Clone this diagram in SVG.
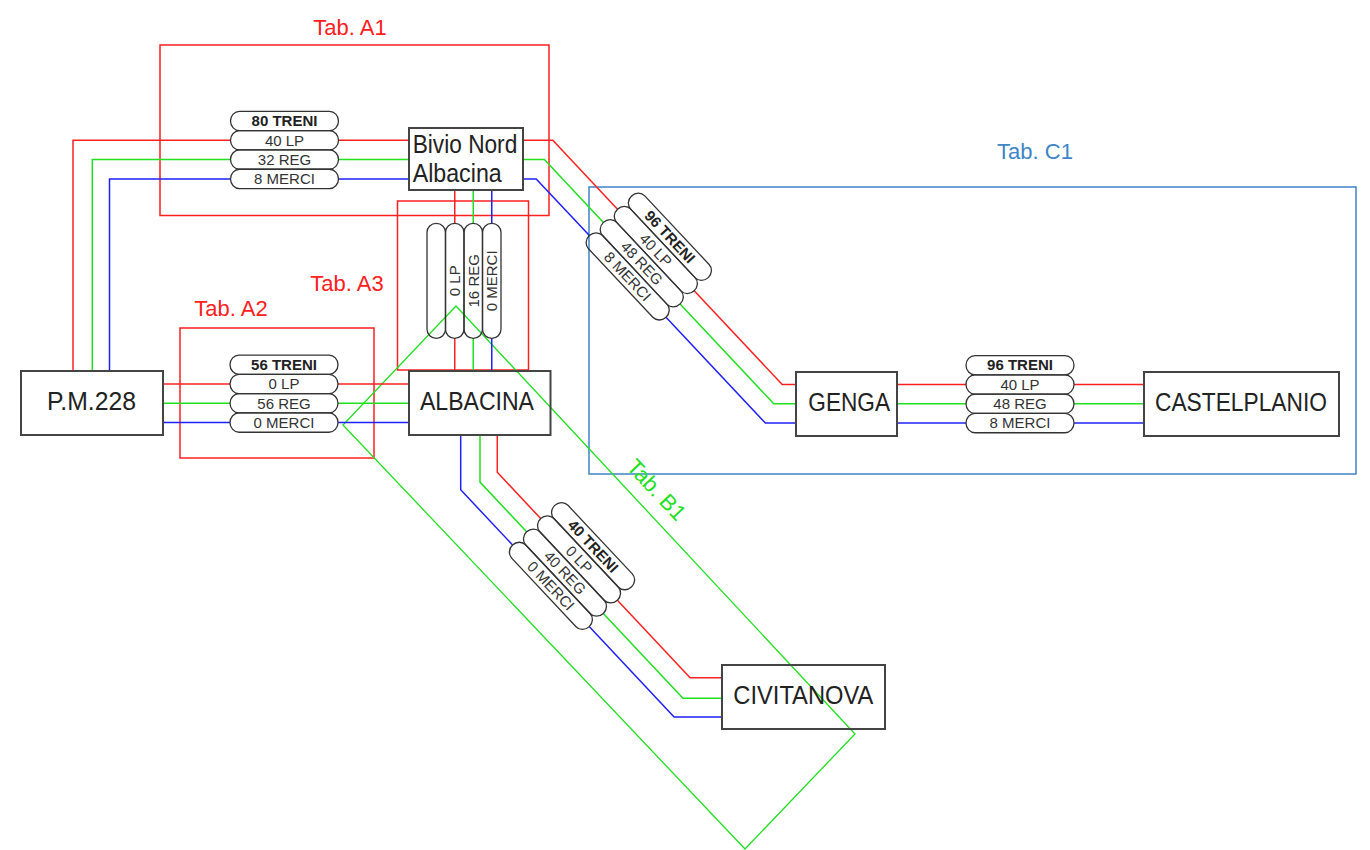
<svg xmlns="http://www.w3.org/2000/svg" width="1370" height="850" viewBox="0 0 1370 850">
<style>
.bg{fill:#ffffff}
.tabR{fill:none;stroke:#ff2020;stroke-width:1.5}
.tabC{fill:none;stroke:#3d85c6;stroke-width:1.5}
.tabG{fill:none;stroke:#20e020;stroke-width:1.3}
.ttlR{fill:#ff2020;font-family:"Liberation Sans",Arial,sans-serif;font-size:22px}
.ttlC{fill:#3d85c6;font-family:"Liberation Sans",Arial,sans-serif;font-size:22px}
.ttlG{fill:#20e020;font-family:"Liberation Sans",Arial,sans-serif;font-size:22px}
.r{fill:none;stroke:#ff2020;stroke-width:1.5}
.g{fill:none;stroke:#20e020;stroke-width:1.5}
.b{fill:none;stroke:#2020ff;stroke-width:1.5}
.box{fill:none;stroke:#444;stroke-width:2}
.nl{fill:#222;font-family:"Liberation Sans",Arial,sans-serif;font-size:25px}
.pill{fill:none;stroke:#333;stroke-width:1.3}
.pt{fill:#333;font-family:"Liberation Sans",Arial,sans-serif;font-size:15px;text-anchor:middle}
.ptb{fill:#222;font-family:"Liberation Sans",Arial,sans-serif;font-size:15px;font-weight:bold;text-anchor:middle}
</style>
<rect class="bg" x="0" y="0" width="1370" height="850"/>

<g id="tables">
  <rect class="tabR" x="160" y="45" width="389" height="170.5"/>
  <text class="ttlR" x="350" y="35" text-anchor="middle">Tab. A1</text>
  <rect class="tabR" x="397.5" y="201" width="131" height="169"/>
  <text class="ttlR" x="347" y="291" text-anchor="middle">Tab. A3</text>
  <rect class="tabR" x="180" y="328" width="194" height="130"/>
  <text class="ttlR" x="231" y="316" text-anchor="middle">Tab. A2</text>
  <rect class="tabC" x="589" y="187" width="767" height="287"/>
  <text class="ttlC" x="1035" y="159" text-anchor="middle">Tab. C1</text>
  <polygon class="tabG" points="456,306 855,734 745,849 343,425"/>
  <text class="ttlG" x="0" y="0" text-anchor="middle" transform="translate(651,495) rotate(46.8)">Tab. B1</text>
</g>

<g id="connectors">
  <polyline class="r" points="73,371 73,140.3 230.5,140.3"/>
  <polyline class="g" points="92.3,371 92.3,159.6 230.5,159.6"/>
  <polyline class="b" points="109.5,371 109.5,178.9 230.5,178.9"/>
  <line class="r" x1="338.5" y1="140.3" x2="409" y2="140.3"/>
  <line class="g" x1="338.5" y1="159.6" x2="409" y2="159.6"/>
  <line class="b" x1="338.5" y1="178.9" x2="409" y2="178.9"/>
  <polyline class="r" points="523,140.3 552.8,140.3 617.5,209.2"/>
  <polyline class="g" points="523,159.6 544.4,159.6 603.4,222.4"/>
  <polyline class="b" points="523,178.9 536.2,178.9 589.4,235.6"/>
  <polyline class="r" points="694.2,290.8 782.2,384.5 796,384.5"/>
  <polyline class="g" points="680.1,304 773.8,403.8 796,403.8"/>
  <polyline class="b" points="666,317.2 765.4,423.1 796,423.1"/>
  <line class="r" x1="897" y1="384.5" x2="966" y2="384.5"/>
  <line class="g" x1="897" y1="403.8" x2="966" y2="403.8"/>
  <line class="b" x1="897" y1="423.1" x2="966" y2="423.1"/>
  <line class="r" x1="1074" y1="384.5" x2="1144" y2="384.5"/>
  <line class="g" x1="1074" y1="403.8" x2="1144" y2="403.8"/>
  <line class="b" x1="1074" y1="423.1" x2="1144" y2="423.1"/>
  <line class="r" x1="163" y1="384" x2="230" y2="384"/>
  <line class="g" x1="163" y1="403.3" x2="230" y2="403.3"/>
  <line class="b" x1="163" y1="422.6" x2="230" y2="422.6"/>
  <line class="r" x1="338" y1="384" x2="409" y2="384"/>
  <line class="g" x1="338" y1="403.3" x2="409" y2="403.3"/>
  <line class="b" x1="338" y1="422.6" x2="409" y2="422.6"/>
  <line class="r" x1="454.75" y1="190" x2="454.75" y2="223"/>
  <line class="g" x1="473.25" y1="190" x2="473.25" y2="223"/>
  <line class="b" x1="491.75" y1="190" x2="491.75" y2="223"/>
  <line class="r" x1="454.75" y1="338" x2="454.75" y2="371"/>
  <line class="g" x1="473.25" y1="338" x2="473.25" y2="371"/>
  <line class="b" x1="491.75" y1="338" x2="491.75" y2="371"/>
  <polyline class="r" points="497.3,435 497.3,472.3 540.7,518.6"/>
  <polyline class="g" points="480,435 480,482.1 526.6,531.8"/>
  <polyline class="b" points="460.7,435 460.7,489.8 512.6,545"/>
  <polyline class="r" points="617.4,600.2 690.1,677.7 722,677.7"/>
  <polyline class="g" points="603.3,613.4 683,698.3 722,698.3"/>
  <polyline class="b" points="589.2,626.6 674.1,717 722,717"/>
</g>

<g id="flows-A1" transform="translate(284.5,149.95)">
  <rect class="pill" x="-54" y="-38.6" width="108" height="19.3" rx="9" ry="9.65"/>
  <rect class="pill" x="-54" y="-19.3" width="108" height="19.3" rx="9" ry="9.65"/>
  <rect class="pill" x="-54" y="0" width="108" height="19.3" rx="9" ry="9.65"/>
  <rect class="pill" x="-54" y="19.3" width="108" height="19.3" rx="9" ry="9.65"/>
  <text class="ptb" x="0" y="-23.7">80 TRENI</text>
  <text class="pt" x="0" y="-4.4">40 LP</text>
  <text class="pt" x="0" y="14.9">32 REG</text>
  <text class="pt" x="0" y="34.2">8 MERCI</text>
</g>

<g id="flows-A2" transform="translate(284,393.65)">
  <rect class="pill" x="-54" y="-38.6" width="108" height="19.3" rx="9" ry="9.65"/>
  <rect class="pill" x="-54" y="-19.3" width="108" height="19.3" rx="9" ry="9.65"/>
  <rect class="pill" x="-54" y="0" width="108" height="19.3" rx="9" ry="9.65"/>
  <rect class="pill" x="-54" y="19.3" width="108" height="19.3" rx="9" ry="9.65"/>
  <text class="ptb" x="0" y="-23.7">56 TRENI</text>
  <text class="pt" x="0" y="-4.4">0 LP</text>
  <text class="pt" x="0" y="14.9">56 REG</text>
  <text class="pt" x="0" y="34.2">0 MERCI</text>
</g>

<g id="flows-A3" transform="translate(464,280.8) rotate(-90)">
  <rect class="pill" x="-57.5" y="-37" width="115" height="18.5" rx="9" ry="9.25"/>
  <rect class="pill" x="-57.5" y="-18.5" width="115" height="18.5" rx="9" ry="9.25"/>
  <rect class="pill" x="-57.5" y="0" width="115" height="18.5" rx="9" ry="9.25"/>
  <rect class="pill" x="-57.5" y="18.5" width="115" height="18.5" rx="9" ry="9.25"/>
  <text class="pt" x="0" y="-4">0 LP</text>
  <text class="pt" x="0" y="14.5">16 REG</text>
  <text class="pt" x="0" y="33">0 MERCI</text>
</g>

<g id="flows-C1" transform="translate(648.8,256.6) rotate(46.8)">
  <rect class="pill" x="-56" y="-38.6" width="112" height="19.3" rx="9" ry="9.65"/>
  <rect class="pill" x="-56" y="-19.3" width="112" height="19.3" rx="9" ry="9.65"/>
  <rect class="pill" x="-56" y="0" width="112" height="19.3" rx="9" ry="9.65"/>
  <rect class="pill" x="-56" y="19.3" width="112" height="19.3" rx="9" ry="9.65"/>
  <text class="ptb" x="0" y="-23.7">96 TRENI</text>
  <text class="pt" x="0" y="-4.4">40 LP</text>
  <text class="pt" x="0" y="14.9">48 REG</text>
  <text class="pt" x="0" y="34.2">8 MERCI</text>
</g>

<g id="flows-C1b" transform="translate(1020,394.15)">
  <rect class="pill" x="-54" y="-38.6" width="108" height="19.3" rx="9" ry="9.65"/>
  <rect class="pill" x="-54" y="-19.3" width="108" height="19.3" rx="9" ry="9.65"/>
  <rect class="pill" x="-54" y="0" width="108" height="19.3" rx="9" ry="9.65"/>
  <rect class="pill" x="-54" y="19.3" width="108" height="19.3" rx="9" ry="9.65"/>
  <text class="ptb" x="0" y="-23.7">96 TRENI</text>
  <text class="pt" x="0" y="-4.4">40 LP</text>
  <text class="pt" x="0" y="14.9">48 REG</text>
  <text class="pt" x="0" y="34.2">8 MERCI</text>
</g>

<g id="flows-B1" transform="translate(572,566) rotate(46.8)">
  <rect class="pill" x="-56" y="-38.6" width="112" height="19.3" rx="9" ry="9.65"/>
  <rect class="pill" x="-56" y="-19.3" width="112" height="19.3" rx="9" ry="9.65"/>
  <rect class="pill" x="-56" y="0" width="112" height="19.3" rx="9" ry="9.65"/>
  <rect class="pill" x="-56" y="19.3" width="112" height="19.3" rx="9" ry="9.65"/>
  <text class="ptb" x="0" y="-23.7">40 TRENI</text>
  <text class="pt" x="0" y="-4.4">0 LP</text>
  <text class="pt" x="0" y="14.9">40 REG</text>
  <text class="pt" x="0" y="34.2">0 MERCI</text>
</g>

<g id="node-pm228">
  <rect class="box" x="21" y="371" width="142" height="64"/>
  <text class="nl" x="47" y="410" textLength="89" lengthAdjust="spacingAndGlyphs">P.M.228</text>
</g>
<g id="node-bivio">
  <rect class="box" x="409" y="128" width="114" height="62"/>
  <text class="nl" x="412.7" y="153.3" font-size="23" textLength="104.6" lengthAdjust="spacingAndGlyphs">Bivio Nord</text>
  <text class="nl" x="412.7" y="181.7" font-size="23" textLength="89" lengthAdjust="spacingAndGlyphs">Albacina</text>
</g>
<g id="node-albacina">
  <rect class="box" x="409" y="371" width="141.5" height="64"/>
  <text class="nl" x="420" y="409.5" textLength="114" lengthAdjust="spacingAndGlyphs">ALBACINA</text>
</g>
<g id="node-genga">
  <rect class="box" x="796" y="372" width="101" height="64"/>
  <text class="nl" x="808.3" y="410.5" textLength="81.7" lengthAdjust="spacingAndGlyphs">GENGA</text>
</g>
<g id="node-castelplanio">
  <rect class="box" x="1144" y="372" width="195" height="64"/>
  <text class="nl" x="1155" y="410.5" textLength="172" lengthAdjust="spacingAndGlyphs">CASTELPLANIO</text>
</g>
<g id="node-civitanova">
  <rect class="box" x="722" y="665" width="163" height="64"/>
  <text class="nl" x="733.3" y="704" textLength="140" lengthAdjust="spacingAndGlyphs">CIVITANOVA</text>
</g>
</svg>
